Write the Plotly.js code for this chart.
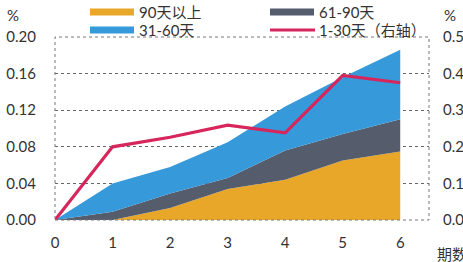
<!DOCTYPE html>
<html><head><meta charset="utf-8">
<script src="https://cdn.plot.ly/plotly-3.0.1.min.js"></script>
<style>html,body{margin:0;padding:0;background:#fff}#c{width:463px;height:262px}</style>
</head><body><div id="c"></div>
<script>
const periods = [0, 1, 2, 3, 4, 5, 6];
const over90 = [0, 0, 0.013, 0.034, 0.044, 0.065, 0.075];
const d61to90 = [0, 0.009, 0.016, 0.012, 0.032, 0.029, 0.035];
const d31to60 = [0, 0.031, 0.029, 0.039, 0.048, 0.062, 0.076];
const d1to30 = [0, 0.20, 0.226, 0.259, 0.238, 0.395, 0.375];
const names = ['90天以上', '61-90天', '31-60天', '1-30天（右轴）'];
const colors = ['#E9A72A', '#555D6D', '#3699DA', '#D6265C'];
const leftTicks = [0, 0.04, 0.08, 0.12, 0.16, 0.20];
const leftTickText = ['0.00', '0.04', '0.08', '0.12', '0.16', '0.20'];
const rightTicks = [0, 0.1, 0.2, 0.3, 0.4, 0.5];
const rightTickText = ['0.0', '0.1', '0.2', '0.3', '0.4', '0.5'];

const FONT = 'Lato, "Noto Sans CJK SC", sans-serif';
const traces = [
  {x: periods, y: over90, name: names[0], stackgroup: 'a', mode: 'none', fillcolor: colors[0], line: {width: 0}},
  {x: periods, y: d61to90, name: names[1], stackgroup: 'a', mode: 'none', fillcolor: colors[1], line: {width: 0}},
  {x: periods, y: d31to60, name: names[2], stackgroup: 'a', mode: 'none', fillcolor: colors[2], line: {width: 0}},
  {x: periods, y: d1to30, name: names[3], yaxis: 'y2', mode: 'lines', line: {color: colors[3], width: 3.2}}
];

// custom legend
const legPos = [[90, 12], [270, 12], [90, 30], [270, 30]];
const W = 463, H = 262;
const shapes = [{type: 'rect', xref: 'paper', yref: 'paper', x0: 0, x1: 1, y0: 0, y1: 1,
  line: {color: '#777', width: 1, dash: 'dot'}}];
const annotations = [];
const ml = 55, mr = 34, mt = 37, mb = 42;
const pw = W - ml - mr, ph = H - mt - mb;
function px2x(p) { return (p - ml) / pw; }
function py2y(p) { return (H - mb - p) / ph; }
legPos.forEach((p, i) => {
  if (i === 3) {
    shapes.push({type: 'line', xref: 'paper', yref: 'paper', x0: px2x(p[0]), x1: px2x(p[0] + 45),
      y0: py2y(p[1]), y1: py2y(p[1]), line: {color: colors[i], width: 3}});
  } else {
    shapes.push({type: 'rect', xref: 'paper', yref: 'paper', x0: px2x(p[0]), x1: px2x(p[0] + 44),
      y0: py2y(p[1] - 3.5), y1: py2y(p[1] + 3.5), line: {width: 0}, fillcolor: colors[i]});
  }
  annotations.push({xref: 'paper', yref: 'paper', x: px2x(p[0] + 47), y: py2y(p[1]), xanchor: 'left', yanchor: 'middle',
    text: names[i], showarrow: false, font: {size: 15, color: '#333', family: FONT}});
});
annotations.push({xref: 'paper', yref: 'paper', x: px2x(13), y: py2y(15), text: '%', showarrow: false,
  xanchor: 'center', yanchor: 'middle', font: {size: 15, color: '#333', family: FONT}});
annotations.push({xref: 'paper', yref: 'paper', x: px2x(450), y: py2y(15), text: '%', showarrow: false,
  xanchor: 'center', yanchor: 'middle', font: {size: 15, color: '#333', family: FONT}});
annotations.push({xref: 'paper', yref: 'paper', x: px2x(435), y: py2y(254), text: '期数', showarrow: false,
  xanchor: 'left', yanchor: 'middle', font: {size: 15, color: '#333', family: FONT}});

const layout = {
  width: W, height: H,
  margin: {l: ml, r: mr, t: mt, b: mb, pad: 0},
  paper_bgcolor: '#fff', plot_bgcolor: '#fff',
  showlegend: false,
  font: {family: FONT, size: 15, color: '#333'},
  xaxis: {range: [0, 6.5], tickvals: periods, ticktext: periods.map(String), showgrid: false, zeroline: false,
    showline: false, ticks: '', ticklabelstandoff: 12, tickfont: {size: 15}},
  yaxis: {range: [0, 0.2], tickvals: leftTicks, ticktext: leftTickText, showgrid: true, gridcolor: '#666',
    griddash: 'dot', gridwidth: 1, zeroline: false, showline: false, ticks: '', ticklabelstandoff: 18, tickfont: {size: 15}},
  yaxis2: {range: [0, 0.5], overlaying: 'y', side: 'right', tickvals: rightTicks, ticktext: rightTickText,
    showgrid: false, zeroline: false, showline: false, ticks: '', ticklabelstandoff: 13, tickfont: {size: 15}},
  shapes: shapes,
  annotations: annotations
};
Plotly.newPlot('c', traces, layout, {staticPlot: true});
</script></body></html>
